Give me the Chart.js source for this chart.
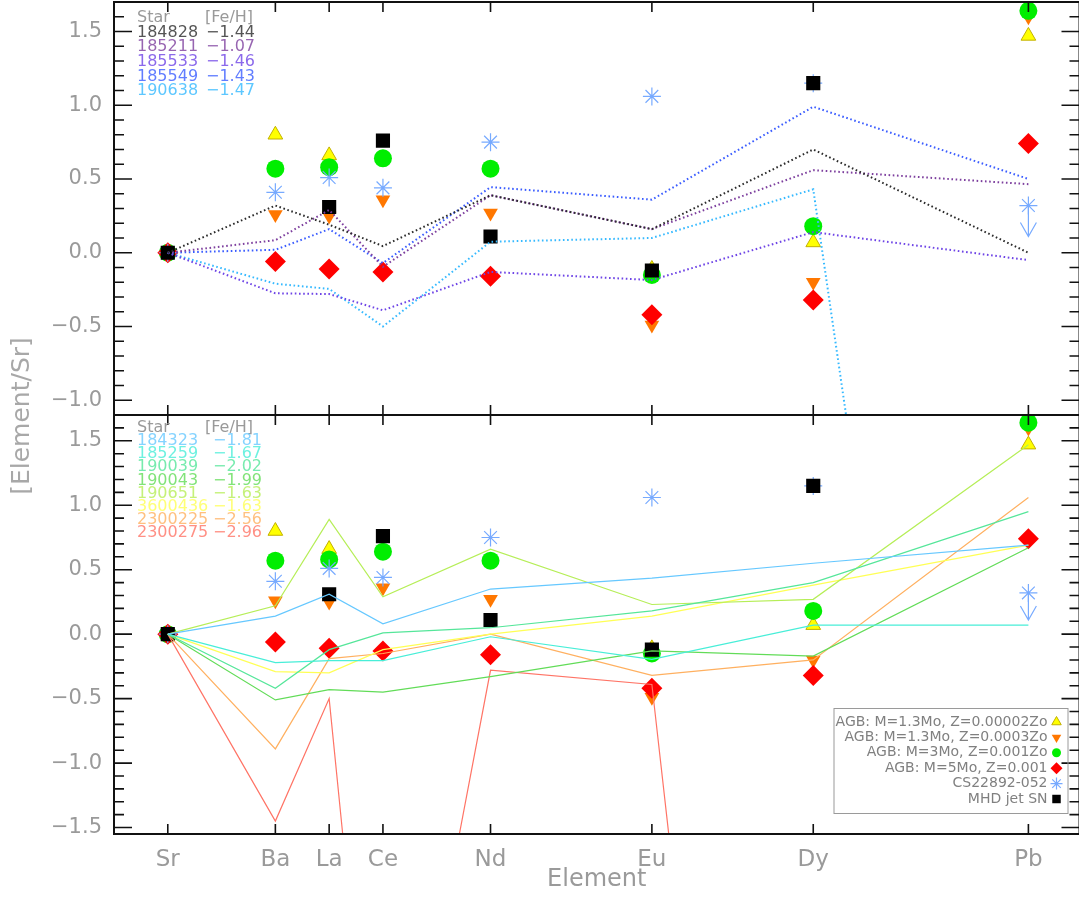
<!DOCTYPE html>
<html>
<head>
<meta charset="utf-8">
<script src="https://cdn.jsdelivr.net/npm/chart.js@4.4.1/dist/chart.umd.min.js"></script>
<style>
  html, body { margin: 0; padding: 0; background: #fff; overflow: hidden; }
  #wrap { position: relative; width: 1079px; height: 897px; overflow: hidden; }
  canvas { position: absolute; left: 0; }
  #top-chart { top: -28px; }
  #bottom-chart { top: 385px; }
</style>
</head>
<body>
<div id="wrap">
  <canvas id="top-chart" width="1090" height="580"></canvas>
  <canvas id="bottom-chart" width="1090" height="512"></canvas>
</div>
<script>
// ---- data ----
const elements = ['Sr', 'Ba', 'La', 'Ce', 'Nd', 'Eu', 'Dy', 'Pb'];
const elementPos = [0, 2, 3, 4, 6, 9, 12, 16];

const topYTicks = [-1.0, -0.5, 0.0, 0.5, 1.0, 1.5];
const bottomYTicks = [-1.5, -1.0, -0.5, 0.0, 0.5, 1.0, 1.5];

// upper panel stars (dotted lines)
const topStarNames = ['184828', '185211', '185533', '185549', '190638'];
const topStarFeH = [-1.44, -1.07, -1.46, -1.43, -1.47];
const topStarColors = ['#2b2b2b', '#7d3f9e', '#6e44e6', '#3a5cff', '#35b9ff'];
const star184828 = [0, 0.32, 0.19, 0.045, 0.39, 0.16, 0.70, 0.0];
const star185211 = [0, 0.085, 0.29, -0.095, 0.39, 0.16, 0.56, 0.465];
const star185533 = [0, -0.275, -0.28, -0.39, -0.13, -0.185, 0.14, -0.05];
const star185549 = [0, 0.02, 0.16, -0.07, 0.445, 0.36, 0.99, 0.50];
const star190638 = [0, -0.21, -0.245, -0.50, 0.075, 0.10, 0.43, -9.6];

// lower panel stars (thin solid lines)
const bottomStarNames = ['184323', '185259', '190039', '190043', '190651', '3600436', '2300225', '2300275'];
const bottomStarFeH = [-1.81, -1.67, -2.02, -1.99, -1.63, -1.63, -2.56, -2.96];
const bottomStarColors = ['#66c8ff', '#48eed8', '#55e69a', '#62dc58', '#b6ee58', '#ffff55', '#ffb060', '#ff7466'];
const star184323 = [0, 0.14, 0.31, 0.08, 0.35, 0.435, 0.55, 0.69];
const star185259 = [0, -0.22, -0.205, -0.205, -0.02, -0.195, 0.07, 0.07];
const star190039 = [0, -0.42, -0.12, 0.01, 0.05, 0.18, 0.40, 0.95];
const star190043 = [0, -0.51, -0.43, -0.45, -0.33, -0.13, -0.17, 0.67];
const star190651 = [0, 0.22, 0.89, 0.29, 0.66, 0.23, 0.27, 1.47];
const star3600436 = [0, -0.29, -0.30, -0.12, 0.0, 0.14, 0.38, 0.69];
const star2300225 = [0, -0.89, -0.19, -0.15, 0.0, -0.32, -0.20, 1.06];
const star2300275 = [0, -1.45, -0.50, -4.67, -0.28, -0.39, -11.5, null];

// model predictions / comparison (same in both panels)
const agbLowZ = [0, 0.80, 0.66, null, null, -0.11, 0.07, 1.47];
const agbMidZ = [0, 0.26, 0.25, 0.36, 0.27, -0.49, -0.20, 1.60];
const agb3Mo = [0, 0.57, 0.58, 0.64, 0.57, -0.15, 0.18, 1.64];
const agb5Mo = [0, -0.06, -0.11, -0.13, -0.16, -0.42, -0.32, 0.74];
const cs22892 = [0, 0.41, 0.51, 0.44, 0.75, 1.06, 1.15, 0.32];
const cs22892Limit = [false, false, false, false, false, false, false, true];
const mhdJet = [0, null, 0.31, 0.76, 0.11, -0.12, 1.15, null];

// ---- styles ----
const FONT = '"DejaVu Sans", "Liberation Sans", sans-serif';
const GREY = '#9a9a9a';
const LIMIT_ARROW = 0.21;

const toPoints = (vals) => vals.map((v, i) => ({ x: elementPos[i], y: v }));
const fmt = (v) => (v < 0 ? '\u2212' : '') + Math.abs(v).toFixed(1);
const fmtFeH = (v) => '\u2212' + Math.abs(v).toFixed(2);

const markerSets = [
    { label: 'MHD jet SN', data: mhdJet, pointStyle: 'rect', radius: 10, bg: '#000000', border: '#000000', bw: 0, order: 1, key: 6 },
    { label: 'CS22892-052', data: cs22892, pointStyle: 'star', radius: 9, bg: '#77aaff', border: '#77aaff', bw: 1.2, order: 2, key: 6, limits: cs22892Limit },
    { label: 'AGB: M=5Mo, Z=0.001', data: agb5Mo, pointStyle: 'rectRot', radius: 10.5, bg: '#ff0000', border: '#ff0000', bw: 0, order: 3, key: 6 },
    { label: 'AGB: M=3Mo, Z=0.001Zo', data: agb3Mo, pointStyle: 'circle', radius: 9, bg: '#00ee00', border: '#00ee00', bw: 0, order: 4, key: 4.5 },
    { label: 'AGB: M=1.3Mo, Z=0.0003Zo', data: agbMidZ, pointStyle: 'triangle', rotation: 180, radius: 8.5, bg: '#ff7700', border: '#ff7700', bw: 0, order: 5, key: 5.5 },
    { label: 'AGB: M=1.3Mo, Z=0.00002Zo', data: agbLowZ, pointStyle: 'triangle', radius: 8.5, bg: '#ffff00', border: '#c2b000', bw: 1, order: 6, key: 5.5 }
];

function markerDatasets() {
    return markerSets.map(m => ({
        label: m.label,
        data: toPoints(m.data),
        showLine: false,
        pointStyle: m.pointStyle,
        pointRadius: m.radius,
        rotation: m.rotation || 0,
        backgroundColor: m.bg,
        borderColor: m.border,
        pointBorderWidth: m.bw,
        borderWidth: m.bw,
        order: m.order,
        upperLimit: m.limits || null
    }));
}

function starDatasets(series, names, colors, dotted) {
    return series.map((vals, i) => ({
        label: names[i],
        data: toPoints(vals),
        showLine: true,
        pointRadius: 0,
        borderColor: colors[i],
        borderWidth: dotted ? 2 : 1.2,
        borderDash: dotted ? [1.6, 2.6] : [],
        tension: 0,
        order: 0
    }));
}

// ---- plugins ----
const panelFrame = {
    id: 'panelFrame',
    afterDatasetsDraw(chart) {
        const { ctx, chartArea: a, scales: { x, y } } = chart;
        ctx.save();
        ctx.strokeStyle = '#111';
        ctx.lineWidth = 1.6;
        ctx.beginPath();
        elementPos.forEach(v => {
            const px = x.getPixelForValue(v);
            ctx.moveTo(px, a.top); ctx.lineTo(px, a.top + 10);
            ctx.moveTo(px, a.bottom); ctx.lineTo(px, a.bottom - 10);
        });
        for (let k = Math.ceil(y.min * 10 - 1e-6); k <= Math.floor(y.max * 10 + 1e-6); k++) {
            const py = y.getPixelForValue(k / 10);
            const len = k % 5 === 0 ? 18 : 10;
            ctx.moveTo(a.left, py); ctx.lineTo(a.left + len, py);
            ctx.moveTo(a.right, py); ctx.lineTo(a.right - len, py);
        }
        ctx.stroke();
        ctx.lineWidth = 2;
        ctx.strokeRect(a.left, a.top, a.width, a.height);
        ctx.restore();
    }
};

const upperLimits = {
    id: 'upperLimits',
    afterDatasetsDraw(chart) {
        const { ctx, scales: { x, y } } = chart;
        chart.data.datasets.forEach(ds => {
            if (!ds.upperLimit) return;
            ds.upperLimit.forEach((flag, j) => {
                if (!flag) return;
                const px = x.getPixelForValue(ds.data[j].x);
                const py = y.getPixelForValue(ds.data[j].y);
                const tip = y.getPixelForValue(ds.data[j].y - LIMIT_ARROW);
                ctx.save();
                ctx.strokeStyle = ds.borderColor;
                ctx.lineWidth = 1.2;
                ctx.beginPath();
                ctx.moveTo(px, py); ctx.lineTo(px, tip);
                ctx.moveTo(px - 8, tip - 14); ctx.lineTo(px, tip); ctx.lineTo(px + 8, tip - 14);
                ctx.stroke();
                ctx.restore();
            });
        });
    }
};

const starList = {
    id: 'starList',
    afterDraw(chart, args, opts) {
        if (!opts.names) return;
        const { ctx, chartArea: a } = chart;
        ctx.save();
        ctx.font = '16px ' + FONT;
        ctx.textBaseline = 'middle';
        ctx.textAlign = 'left';
        ctx.fillStyle = GREY;
        const y0 = a.top + opts.first;
        ctx.fillText('Star', a.left + 23, y0);
        ctx.fillText('[Fe/H]', a.left + 91, y0);
        ctx.globalAlpha = 0.8;
        opts.names.forEach((name, i) => {
            const yy = y0 + (i + 1) * opts.step;
            ctx.fillStyle = opts.colors[i];
            ctx.fillText(name, a.left + 23, yy);
            ctx.fillText(fmtFeH(opts.feh[i]), a.left + opts.valueX, yy);
        });
        ctx.restore();
    }
};

const modelKey = {
    id: 'modelKey',
    afterDraw(chart, args, opts) {
        if (!opts.show) return;
        const { ctx, chartArea: a } = chart;
        const right = a.right - 12, bottom = a.bottom - 21, w = 234, h = 105;
        const top = bottom - h;
        ctx.save();
        ctx.strokeStyle = '#9a9a9a';
        ctx.lineWidth = 1;
        ctx.strokeRect(right - w + 0.5, top + 0.5, w, h);
        ctx.font = '14px ' + FONT;
        ctx.textAlign = 'right';
        ctx.textBaseline = 'middle';
        markerSets.slice().reverse().forEach((m, i) => {
            const yy = top + 14 + i * 15.4;
            ctx.fillStyle = '#808080';
            ctx.fillText(m.label, right - 20, yy);
            ctx.fillStyle = m.bg;
            ctx.strokeStyle = m.border;
            ctx.lineWidth = m.bw || 1;
            Chart.helpers.drawPoint(ctx, {
                pointStyle: m.pointStyle, radius: m.key,
                rotation: m.rotation || 0, borderWidth: m.bw
            }, right - 11, yy);
        });
        ctx.restore();
    }
};

const yTitle = {
    id: 'yTitle',
    afterDraw(chart, args, opts) {
        if (!opts.text) return;
        const { ctx, chartArea: a } = chart;
        ctx.save();
        ctx.translate(22, a.bottom + 1);
        ctx.rotate(-Math.PI / 2);
        ctx.font = '25px ' + FONT;
        ctx.fillStyle = '#a8a8a8';
        ctx.textAlign = 'center';
        ctx.textBaseline = 'middle';
        ctx.fillText(opts.text, 0, 0);
        ctx.restore();
    }
};

// ---- panels ----
function makePanel(canvasId, cfg) {
    return new Chart(document.getElementById(canvasId), {
        type: 'scatter',
        data: { datasets: cfg.lines.concat(markerDatasets()) },
        options: {
            responsive: false,
            animation: false,
            events: [],
            layout: { padding: cfg.padding },
            plugins: {
                legend: { display: false },
                tooltip: { enabled: false },
                starList: cfg.starList,
                modelKey: { show: cfg.showKey },
                yTitle: { text: cfg.yTitle || '' }
            },
            scales: {
                x: {
                    type: 'linear',
                    min: -1,
                    max: 16.95,
                    display: cfg.showX,
                    afterBuildTicks: (axis) => { axis.ticks = elementPos.map(v => ({ value: v })); },
                    afterFit: (axis) => { if (cfg.showX) axis.height = 63; },
                    grid: { display: false, drawTicks: false },
                    border: { display: false },
                    ticks: {
                        autoSkip: false,
                        maxRotation: 0,
                        padding: 12,
                        color: GREY,
                        font: { family: FONT, size: 23 },
                        callback: (v, i) => elements[i]
                    },
                    title: {
                        display: cfg.showX,
                        text: 'Element',
                        color: GREY,
                        font: { family: FONT, size: 24 },
                        padding: { top: 0, bottom: 3 }
                    }
                },
                y: {
                    type: 'linear',
                    min: cfg.range[0],
                    max: cfg.range[1],
                    afterBuildTicks: (axis) => { axis.ticks = cfg.yTicks.map(v => ({ value: v })); },
                    afterFit: (axis) => { axis.width = 114; },
                    grid: { display: false, drawTicks: false },
                    border: { display: false },
                    ticks: {
                        padding: 12,
                        color: GREY,
                        font: { family: FONT, size: 21 },
                        callback: (v) => fmt(v)
                    }
                }
            }
        },
        plugins: [panelFrame, upperLimits, starList, modelKey, yTitle]
    });
}

makePanel('top-chart', {
    lines: starDatasets([star184828, star185211, star185533, star185549, star190638],
        topStarNames, topStarColors, true),
    range: [-1.1, 1.7],
    yTicks: topYTicks,
    padding: { left: 0, right: 7, top: 30, bottom: 137 },
    showX: false,
    showKey: false,
    yTitle: '[Element/Sr]',
    starList: { names: topStarNames, feh: topStarFeH, colors: topStarColors, first: 16, step: 14.6, valueX: 92 }
});

makePanel('bottom-chart', {
    lines: starDatasets([star184323, star185259, star190039, star190043, star190651, star3600436, star2300225, star2300275],
        bottomStarNames, bottomStarColors, false),
    range: [-1.55, 1.7],
    yTicks: bottomYTicks,
    padding: { left: 0, right: 7, top: 30, bottom: 0 },
    showX: true,
    showKey: true,
    starList: { names: bottomStarNames, feh: bottomStarFeH, colors: bottomStarColors, first: 13, step: 13.1, valueX: 99 }
});
</script>
</body>
</html>
